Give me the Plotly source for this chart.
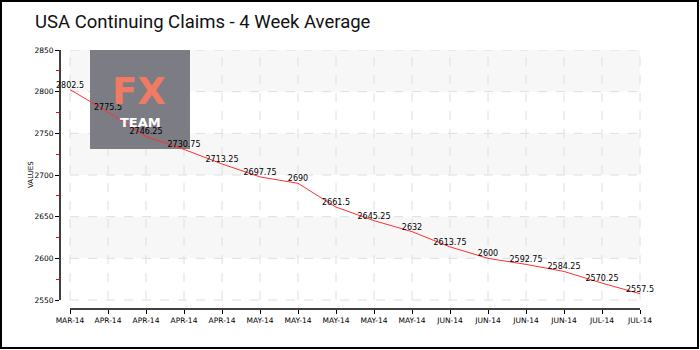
import plotly.graph_objects as go

# Weekly 4-week average of US continuing claims (thousands)
categories = ["MAR-14", "APR-14", "APR-14", "APR-14", "APR-14",
              "MAY-14", "MAY-14", "MAY-14", "MAY-14", "MAY-14",
              "JUN-14", "JUN-14", "JUN-14", "JUN-14", "JUL-14", "JUL-14"]
values = [2802.5, 2775.5, 2746.25, 2730.75, 2713.25, 2697.75, 2690, 2661.5,
          2645.25, 2632, 2613.75, 2600, 2592.75, 2584.25, 2570.25, 2557.5]
y_ticks = [2550, 2600, 2650, 2700, 2750, 2800, 2850]

W, H = 700, 350
ML, MR, MT, MB = 60, 50, 50, 41
PW, PH = W - ML - MR, H - MT - MB

idx = list(range(len(categories)))
step_px = 38
pad = 10 / step_px
x_range = [-pad, len(categories) - 1 + pad]
y_per_px = (y_ticks[-1] - y_ticks[0]) / 250
y_lo = y_ticks[0] - 9 * y_per_px
y_range = [y_lo, y_ticks[-1]]


def px_x(p):
    return (p - ML) / PW


def px_y(p):
    return (H - MB - p) / PH


def dx(p):
    # pixel column -> x data coordinate
    return x_range[0] + (p - ML) / step_px


def dy(p):
    # pixel row -> y data coordinate
    return y_ticks[-1] - (p - MT) * y_per_px


def fmt(v):
    return f"{v:g}"


shapes = []
# alternating horizontal bands
for i in range(len(y_ticks) - 1):
    if i % 2 == 1:
        shapes.append(dict(type="rect", xref="x", yref="y", x0=idx[0], x1=idx[-1],
                           y0=y_ticks[i], y1=y_ticks[i + 1], fillcolor="#f7f7f7",
                           line=dict(width=0), layer="below"))
# dashed grid
for yv in y_ticks:
    shapes.append(dict(type="line", xref="x", yref="y", x0=idx[0], x1=idx[-1],
                       y0=yv, y1=yv, line=dict(color="#dedede", width=1, dash="dash"),
                       layer="below"))
for xv in idx:
    shapes.append(dict(type="line", xref="x", yref="y", x0=xv, x1=xv,
                       y0=y_ticks[0], y1=y_ticks[-1],
                       line=dict(color="#dedede", width=1, dash="dash"), layer="below"))
# watermark box
shapes.append(dict(type="rect", xref="x", yref="y",
                   x0=dx(90), x1=dx(190), y0=dy(149), y1=dy(50),
                   fillcolor="#77777f", opacity=0.96, line=dict(width=0), layer="below"))
# axis lines
shapes.append(dict(type="line", xref="paper", yref="y", x0=0, x1=0,
                   y0=y_ticks[0], y1=y_ticks[-1], line=dict(color="black", width=1.5)))
shapes.append(dict(type="line", xref="x", yref="paper", x0=idx[0], x1=idx[-1],
                   y0=0, y1=0, line=dict(color="black", width=1.5)))
# outer frame
shapes.append(dict(type="rect", xref="paper", yref="paper",
                   x0=px_x(1), x1=px_x(698), y0=px_y(348), y1=px_y(1),
                   line=dict(color="black", width=2), fillcolor="rgba(0,0,0,0)"))

fig = go.Figure()
fig.add_trace(go.Scatter(
    x=idx, y=values, mode="lines+text",
    line=dict(color="#ff3030", width=1),
    text=[fmt(v) for v in values], textposition="top center",
    textfont=dict(family="DejaVu Sans", size=8, color="black"),
    cliponaxis=False, hoverinfo="skip", showlegend=False,
))

annotations = [
    dict(text="<b>FX</b>", xref="paper", yref="paper", x=px_x(139), y=px_y(91),
         showarrow=False, font=dict(family="DejaVu Sans", size=37, color="#f07a62"),
         xanchor="center", yanchor="middle"),
    dict(text="<b>TEAM</b>", xref="paper", yref="paper", x=px_x(140), y=px_y(122),
         showarrow=False, font=dict(family="DejaVu Sans", size=13, color="white"),
         xanchor="center", yanchor="middle"),
    dict(text="VALUES", xref="paper", yref="paper", x=px_x(31), y=px_y(175),
         showarrow=False, textangle=-90,
         font=dict(family="DejaVu Sans", size=7, color="black"),
         xanchor="center", yanchor="middle"),
]

fig.update_layout(
    width=W, height=H,
    margin=dict(l=ML, r=MR, t=MT, b=MB),
    paper_bgcolor="white", plot_bgcolor="white",
    title=dict(text="USA Continuing Claims - 4 Week Average",
               x=35 / W, xanchor="left", y=1 - 22 / H, yanchor="middle",
               font=dict(family="Roboto", size=18.5, color="#111111")),
    xaxis=dict(range=x_range, tickmode="array", tickvals=idx, ticktext=categories,
               showgrid=False, zeroline=False, showline=False,
               ticks="outside", ticklen=4, tickcolor="black", tickwidth=1,
               tickfont=dict(family="DejaVu Sans", size=7.5, color="black"),
               fixedrange=True),
    yaxis=dict(range=y_range, tickmode="array", tickvals=y_ticks,
               ticktext=[str(t) for t in y_ticks],
               showgrid=False, zeroline=False, showline=False,
               ticks="outside", ticklen=4, tickcolor="black", tickwidth=1,
               tickfont=dict(family="DejaVu Sans", size=7.5, color="black"),
               minor=dict(ticks="outside", tickmode="linear", tick0=2525, dtick=50,
                          ticklen=3, tickcolor="red", tickwidth=1, showgrid=False),
               fixedrange=True),
    shapes=shapes,
    annotations=annotations,
)

fig.write_html("out.html")
